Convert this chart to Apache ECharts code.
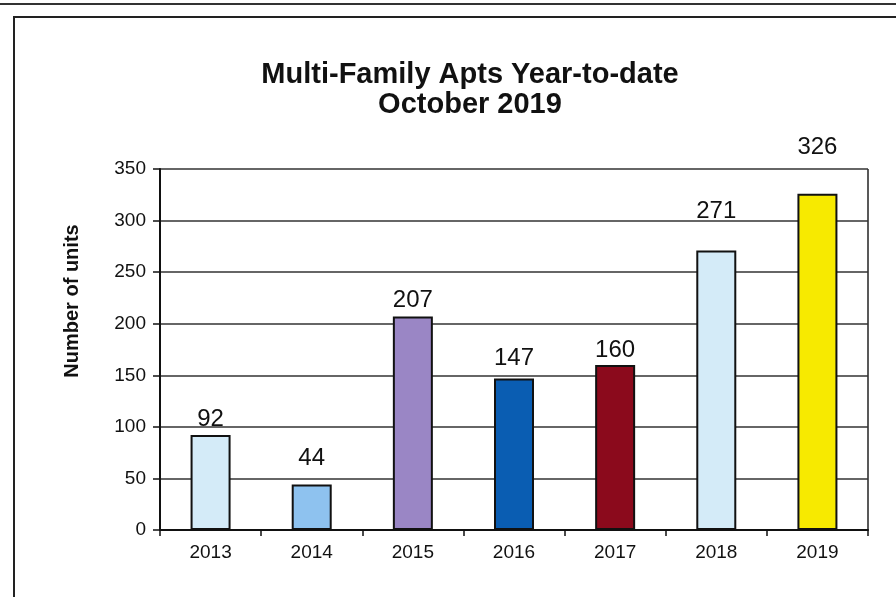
<!DOCTYPE html>
<html>
<head>
<meta charset="utf-8">
<script src="https://cdn.jsdelivr.net/npm/echarts@6/dist/echarts.min.js"></script>
<style>
  html, body { margin: 0; padding: 0; background: #fff; }
  #chart { width: 896px; height: 597px; }
</style>
</head>
<body>
<div id="chart"></div>
<script>
// data
const years = ['2013', '2014', '2015', '2016', '2017', '2018', '2019'];
const units = [92, 44, 207, 147, 160, 271, 326];
const yTicks = [0, 50, 100, 150, 200, 250, 300, 350];

// styling
const barColors = ['#d4ebf8', '#8ec2ef', '#9a86c5', '#0a5db2', '#8b0a1c', '#d4ebf8', '#f7ea00'];
const labelGap = [4, 14, 4, 8, 3, 27, 34]; // labels were hand-moved in the original

const chart = echarts.init(document.getElementById('chart'));

const option = {
  animation: false,
  backgroundColor: '#fff',
  textStyle: { fontFamily: 'Liberation Sans, Arial, sans-serif' },
  title: {
    text: 'Multi-Family Apts Year-to-date\nOctober 2019',
    left: 465,
    top: 55,
    textAlign: 'center',
    textStyle: { fontSize: 29, fontWeight: 'bold', color: '#111', lineHeight: 30 }
  },
  graphic: [
    { type: 'line', shape: { x1: 0, y1: 4, x2: 896, y2: 4 }, style: { stroke: '#333', lineWidth: 2 } },
    { type: 'rect', shape: { x: 14, y: 17, width: 900, height: 600 }, style: { fill: 'none', stroke: '#222', lineWidth: 2 } },
    { type: 'line', shape: { x1: 868, y1: 169, x2: 868, y2: 530 }, style: { stroke: '#222', lineWidth: 1.5 } },
    // axis title sits above the plot's middle in the original
    {
      type: 'text', x: 72, y: 301, rotation: Math.PI / 2,
      style: {
        text: 'Number of units', fill: '#111', align: 'center', verticalAlign: 'middle',
        font: 'bold 20px "Liberation Sans", Arial, sans-serif'
      }
    }
  ],
  grid: { left: 160, right: 28, top: 169, bottom: 67 },
  xAxis: {
    type: 'category',
    data: years,
    axisLine: { lineStyle: { color: '#111', width: 2 } },
    axisTick: { show: true, length: 6, lineStyle: { color: '#111', width: 1.5 } },
    axisLabel: { fontSize: 19, color: '#111', margin: 13 }
  },
  yAxis: {
    type: 'value',
    min: yTicks[0],
    max: yTicks[yTicks.length - 1],
    interval: 50,
    axisLine: { show: true, lineStyle: { color: '#111', width: 2 } },
    axisTick: { show: true, length: 7, lineStyle: { color: '#111', width: 1.5 } },
    axisLabel: { fontSize: 19, color: '#111', margin: 14 },
    splitLine: { show: true, lineStyle: { color: '#333', width: 1.5 } }
  },
  series: [{
    type: 'bar',
    data: units.map((v, i) => ({
      value: v,
      itemStyle: { color: barColors[i] },
      label: { distance: labelGap[i] }
    })),
    barWidth: 40,
    itemStyle: { borderColor: '#111', borderWidth: 2 },
    label: { show: true, position: 'top', fontSize: 24, color: '#111' }
  }]
};

chart.setOption(option);
</script>
</body>
</html>
